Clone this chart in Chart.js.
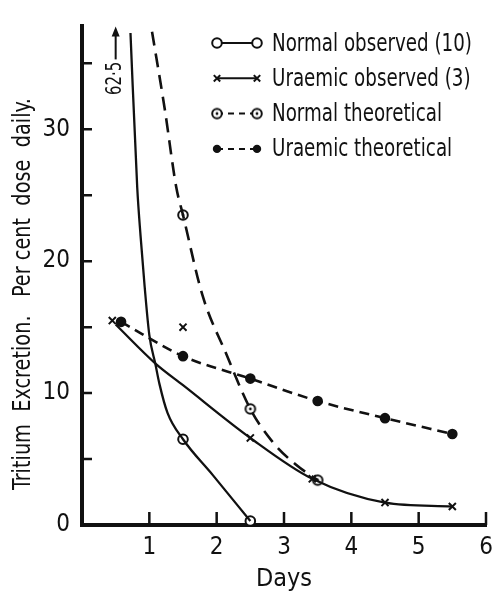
<!DOCTYPE html>
<html>
<head>
<meta charset="utf-8">
<script src="https://cdn.jsdelivr.net/npm/chart.js@4.4.1/dist/chart.umd.min.js"></script>
<style>
  html, body { margin: 0; padding: 0; background: #fff; }
  #wrap { width: 493px; height: 594px; position: relative; }
</style>
</head>
<body>
<div id="wrap"><canvas id="chart"></canvas></div>
<script>
// Tritium excretion (per cent dose daily) against days
const FONT = "'DejaVu Sans Condensed', 'Liberation Sans Narrow', sans-serif";
const INK = '#111';

const xTicks = [1, 2, 3, 4, 5, 6];
const yTicks = [0, 5, 10, 15, 20, 25, 30, 35];

// Normal observed (10) - open circles, first point is off the scale (62.5)
const normObsDays = [0.5, 1.5, 2.5];
const normObsValues = [62.5, 6.5, 0.3];
// the hand-drawn curve through them
const normObsCurveDays = [0.72, 0.82, 0.87, 0.93, 1.0, 1.09, 1.15, 1.27, 1.5, 1.94, 2.5];
const normObsCurveValues = [37.3, 25.6, 21.9, 18.1, 14.4, 12.2, 10.7, 8.5, 6.5, 3.8, 0.3];

// Uraemic observed (3) - crosses
const uraObsDays = [0.45, 1.5, 2.5, 3.42, 4.5, 5.5];
const uraObsValues = [15.5, 15.0, 6.6, 3.5, 1.7, 1.4];
const uraObsCurveDays = [0.5, 1.1, 1.5, 2.5, 3.42, 4.5, 5.5];
const uraObsCurveValues = [15.2, 12.2, 10.6, 6.6, 3.5, 1.7, 1.4];

// Normal theoretical - dotted circles
const normTheoDays = [1.5, 2.5, 3.5];
const normTheoValues = [23.5, 8.8, 3.4];
const normTheoCurveDays = [1.04, 1.23, 1.40, 1.5, 1.79, 2.14, 2.5, 2.83, 3.17, 3.5];
const normTheoCurveValues = [37.4, 31.5, 25.6, 23.5, 17.4, 13, 8.8, 6.3, 4.6, 3.4];

// Uraemic theoretical - filled circles
const uraTheoDays = [0.58, 1.5, 2.5, 3.5, 4.5, 5.5];
const uraTheoValues = [15.4, 12.8, 11.1, 9.4, 8.1, 6.9];

const legendLabels = ['Normal observed (10)', 'Uraemic observed (3)', 'Normal theoretical', 'Uraemic theoretical'];

const pts = (xs, ys) => xs.map((d, i) => ({ x: d, y: ys[i] }));

// circle with a dot in the middle
function ringDot(r) {
    const c = document.createElement('canvas');
    const s = Math.ceil(r * 2 + 4);
    c.width = s; c.height = s;
    const g = c.getContext('2d');
    g.fillStyle = '#fff';
    g.strokeStyle = INK;
    g.lineWidth = 2;
    g.beginPath(); g.arc(s / 2, s / 2, r, 0, Math.PI * 2); g.fill(); g.stroke();
    g.fillStyle = INK;
    g.beginPath(); g.arc(s / 2, s / 2, 1.4, 0, Math.PI * 2); g.fill();
    return c;
}
const ringDotImg = ringDot(4.8);

const curve = (data, dash, width) => ({
    data, borderColor: INK, borderWidth: width, borderDash: dash,
    pointRadius: 0, tension: 0.4, cubicInterpolationMode: 'monotone', showLine: true
});
const markers = (data, style, radius, fill) => ({
    data, showLine: false, pointStyle: style, pointRadius: radius,
    pointBorderWidth: 2, pointBorderColor: INK, pointBackgroundColor: fill
});

// legend samples: marker - line - marker
const legendStyles = [
    { dash: [], marker: 'open' },
    { dash: [], marker: 'cross' },
    { dash: [6, 5], marker: 'ring' },
    { dash: [6, 5], marker: 'dot' }
];

function drawMarker(ctx, kind, x, y) {
    ctx.save();
    ctx.setLineDash([]);
    ctx.lineWidth = 2;
    ctx.strokeStyle = INK;
    ctx.fillStyle = INK;
    if (kind === 'open') {
        ctx.fillStyle = '#fff';
        ctx.beginPath(); ctx.arc(x, y, 4.8, 0, Math.PI * 2); ctx.fill(); ctx.stroke();
    } else if (kind === 'cross') {
        const r = 3.2;
        ctx.beginPath();
        ctx.moveTo(x - r, y - r); ctx.lineTo(x + r, y + r);
        ctx.moveTo(x + r, y - r); ctx.lineTo(x - r, y + r);
        ctx.stroke();
    } else if (kind === 'ring') {
        ctx.drawImage(ringDotImg, x - ringDotImg.width / 2, y - ringDotImg.height / 2);
    } else {
        ctx.beginPath(); ctx.arc(x, y, 4.2, 0, Math.PI * 2); ctx.fill();
    }
    ctx.restore();
}

const decor = {
    id: 'decor',
    afterDraw(chart) {
        const { ctx, scales: { x, y } } = chart;
        ctx.save();
        ctx.strokeStyle = INK;
        ctx.fillStyle = INK;
        ctx.lineWidth = 2.5;
        ctx.setLineDash([]);

        // inward tick marks
        ctx.beginPath();
        xTicks.forEach(v => {
            const px = x.getPixelForValue(v);
            ctx.moveTo(px, y.bottom); ctx.lineTo(px, y.bottom - 13);
        });
        yTicks.slice(1).forEach(v => {
            const py = y.getPixelForValue(v);
            ctx.moveTo(x.left, py); ctx.lineTo(x.left + 10, py);
        });
        ctx.stroke();

        // off-scale value of the first normal observed point
        const ax = x.getPixelForValue(normObsDays[0]);
        ctx.lineWidth = 2;
        ctx.beginPath(); ctx.moveTo(ax, y.top + 33); ctx.lineTo(ax, y.top + 8); ctx.stroke();
        ctx.beginPath();
        ctx.moveTo(ax, y.top); ctx.lineTo(ax - 4, y.top + 10); ctx.lineTo(ax + 4, y.top + 10);
        ctx.closePath(); ctx.fill();
        ctx.save();
        ctx.translate(ax, y.top + 52);
        ctx.rotate(-Math.PI / 2);
        ctx.font = '22px ' + FONT;
        ctx.textAlign = 'center';
        ctx.textBaseline = 'middle';
        ctx.fillText('62\u00b75', 0, 0, 33);
        ctx.restore();

        // y axis title
        ctx.save();
        ctx.translate(23, 294);
        ctx.rotate(-Math.PI / 2);
        ctx.font = '25px ' + FONT;
        ctx.textAlign = 'center';
        ctx.textBaseline = 'middle';
        ctx.fillText('Tritium  Excretion.   Per cent  dose  daily.', 0, 0, 392);
        ctx.restore();

        // legend, squeezed to the narrow type of the original
        ctx.font = '25px ' + FONT;
        ctx.textAlign = 'left';
        ctx.textBaseline = 'middle';
        const squeeze = 200 / ctx.measureText(legendLabels[0]).width;
        legendLabels.forEach((label, i) => {
            const ly = 43 + i * 35.3;
            const st = legendStyles[i];
            ctx.lineWidth = 2;
            ctx.setLineDash(st.dash);
            ctx.beginPath(); ctx.moveTo(217, ly); ctx.lineTo(257, ly); ctx.stroke();
            drawMarker(ctx, st.marker, 217, ly);
            drawMarker(ctx, st.marker, 257, ly);
            ctx.setLineDash([]);
            ctx.fillText(label, 272, ly + 1, ctx.measureText(label).width * squeeze);
        });
        ctx.restore();
    }
};

new Chart(document.getElementById('chart'), {
    type: 'line',
    data: {
        datasets: [
            curve(pts(normObsCurveDays, normObsCurveValues), [], 2.3),
            curve(pts(uraObsCurveDays, uraObsCurveValues), [], 2.3),
            curve(pts(normTheoCurveDays, normTheoCurveValues), [14, 8], 2.6),
            { ...curve(pts(uraTheoDays, uraTheoValues), [10, 6], 2.6), tension: 0.2 },
            markers(pts(normObsDays, normObsValues), 'circle', 4.8, '#fff'),
            markers(pts(uraObsDays, uraObsValues), 'crossRot', 5, INK),
            markers(pts(normTheoDays, normTheoValues), ringDotImg, 5, '#fff'),
            markers(pts(uraTheoDays, uraTheoValues), 'circle', 4.3, INK)
        ]
    },
    options: {
        responsive: true,
        maintainAspectRatio: false,
        animation: false,
        layout: { padding: { top: 15, right: 5, left: 0, bottom: 0 } },
        plugins: { legend: { display: false }, tooltip: { enabled: false } },
        scales: {
            x: {
                type: 'linear',
                min: 0, max: 6,
                grid: { display: false, drawTicks: false },
                border: { display: true, color: INK, width: 4 },
                ticks: {
                    stepSize: 1, padding: 8, color: INK,
                    font: { family: FONT, size: 24 },
                    callback: v => (v === 0 ? '' : v)
                },
                title: {
                    display: true, text: 'Days', color: INK,
                    font: { family: FONT, size: 25 },
                    padding: { top: 0, bottom: 0 }
                },
                afterFit(s) { s.height = 69; s.paddingLeft = 0; s.paddingRight = 0; }
            },
            y: {
                type: 'linear',
                min: 0, max: 37.8,
                grid: { display: false, drawTicks: false },
                border: { display: true, color: INK, width: 4 },
                ticks: {
                    stepSize: 5, padding: 12, color: INK,
                    font: { family: FONT, size: 24 },
                    callback: v => (v % 10 === 0 ? v : '')
                },
                afterFit(s) { s.width = 82; }
            }
        }
    },
    plugins: [decor]
});
</script>
</body>
</html>
